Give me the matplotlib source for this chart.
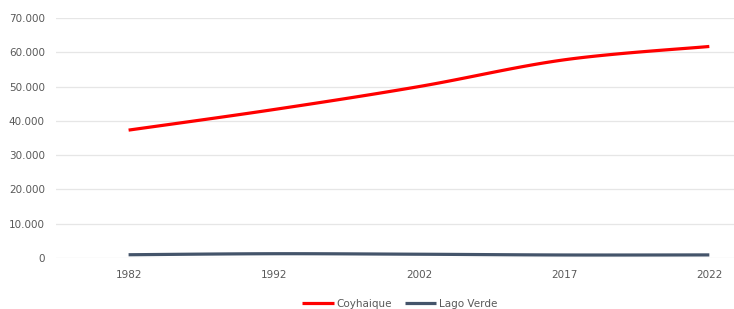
import numpy as np
import matplotlib
matplotlib.use("Agg")
from matplotlib import pyplot as plt
from matplotlib.ticker import FuncFormatter

# data
years = ["1982", "1992", "2002", "2017", "2022"]
coyhaique = [37300, 43300, 50000, 57800, 61700]
lago_verde = [950, 1250, 1100, 880, 900]


def smooth(ys, n=30):
    # catmull-rom style smoothing like excel's "smoothed line"
    xs = np.arange(len(ys), dtype=float)
    pts = np.column_stack([xs, np.array(ys, dtype=float)])
    p = np.vstack([pts[0], pts, pts[-1]])
    out = []
    for i in range(1, len(p) - 2):
        p0, p1, p2, p3 = p[i - 1], p[i], p[i + 1], p[i + 2]
        t = np.linspace(0, 1, n)[:, None]
        c = 0.5 * ((2 * p1) + (-p0 + p2) * t + (2 * p0 - 5 * p1 + 4 * p2 - p3) * t ** 2
                   + (-p0 + 3 * p1 - 3 * p2 + p3) * t ** 3)
        out.append(c)
    out = np.vstack(out)
    return out[:, 0], out[:, 1]


fig = plt.figure(figsize=(7.34, 3.09), dpi=100)
ax = fig.add_axes([56 / 734, 1 - 258 / 309, 678 / 734, 240 / 309])

x1, y1 = smooth(coyhaique)
x2, y2 = smooth(lago_verde)
ax.plot(x1, y1, color="#FF0000", lw=2.3, label="Coyhaique", solid_capstyle="butt")
ax.plot(x2, y2, color="#44546A", lw=2.3, label="Lago Verde", solid_capstyle="butt")

ax.set_ylim(0, 70000)
ax.set_xlim(-0.5, 4.17)
ax.set_yticks(range(0, 70001, 10000))
ax.yaxis.set_major_formatter(FuncFormatter(lambda v, p: f"{int(v):,}".replace(",", ".")))
ax.set_xticks(range(len(years)))
ax.set_xticklabels(years)

ax.grid(axis="y", color="#E6E6E6", lw=0.9)
ax.set_axisbelow(True)
for s in ax.spines.values():
    s.set_visible(False)
ax.tick_params(length=0, labelsize=7.5, labelcolor="#595959")
ax.tick_params(axis="y", pad=8)
ax.tick_params(axis="x", pad=9)

fig.legend(loc="lower center", bbox_to_anchor=(0.545, -0.03), ncol=2, frameon=False,
           fontsize=7.5, labelcolor="#595959", handlelength=3, handletextpad=0.3,
           columnspacing=1.2)

fig.savefig("out.png", dpi=100)
